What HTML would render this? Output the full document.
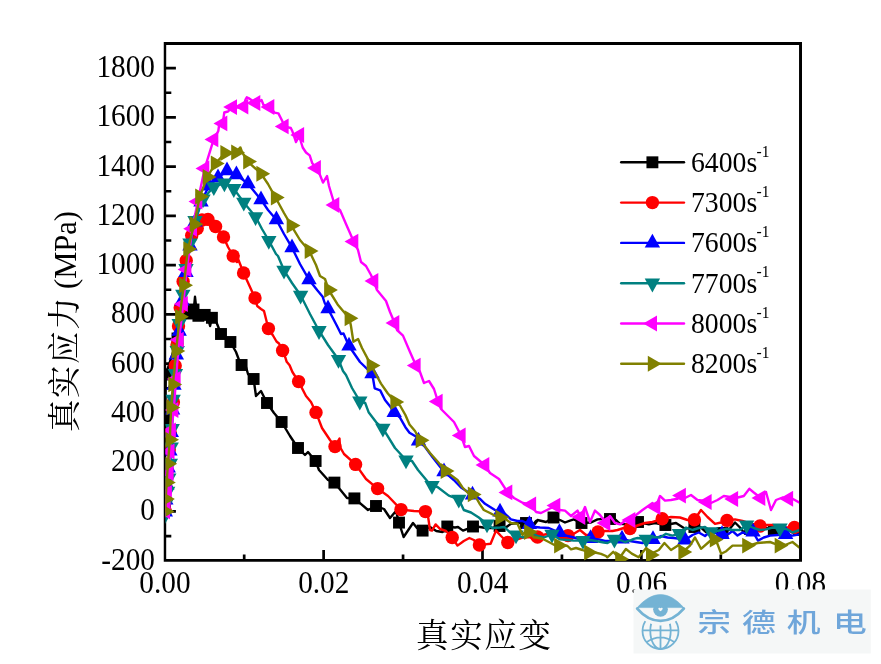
<!DOCTYPE html>
<html lang="zh"><head><meta charset="utf-8"><title>真实应力-真实应变</title>
<style>html,body{margin:0;padding:0;background:#fff}body{width:881px;height:664px;overflow:hidden;position:relative}</style>
</head><body>
<svg width="881" height="664" viewBox="0 0 881 664" style="position:absolute;left:0;top:0">
<defs><clipPath id="pc"><rect x="165.4" y="43" width="633.7" height="517.9"/></clipPath></defs>
<rect x="0" y="0" width="881" height="664" fill="#fff"/>
<path d="M163.75 41.9H802V561.8H163.75ZM166.2 44.9V558.95H799.05V44.9Z" fill="#000" fill-rule="evenodd"/>
<path d="M165.5 536.04H171.3 M165.5 511.41H175.9 M165.5 486.78H171.3 M165.5 462.15H175.9 M165.5 437.53H171.3 M165.5 412.9H175.9 M165.5 388.27H171.3 M165.5 363.64H175.9 M165.5 339.01H171.3 M165.5 314.39H175.9 M165.5 289.76H171.3 M165.5 265.13H175.9 M165.5 240.5H171.3 M165.5 215.87H175.9 M165.5 191.25H171.3 M165.5 166.62H175.9 M165.5 141.99H171.3 M165.5 117.36H175.9 M165.5 92.73H171.3 M165.5 68.11H175.9 M244.19 560.35v-5.8 M323.62 560.35v-10.4 M403.06 560.35v-5.8 M482.5 560.35v-10.4 M561.94 560.35v-5.8 M641.38 560.35v-10.4 M720.81 560.35v-5.8" stroke="#000" stroke-width="2.7" fill="none"/>
<g clip-path="url(#pc)">
<g fill="#000000" stroke="none">
<polyline points="165,505 165,465 165.3,419 165.8,374.5 177.5,338.5 182,322 188.7,313.5 193.5,309.5 194.2,305 195,296.8 196,306 198.4,315.8 201,317 204.7,314.9 208.3,319 210.1,326 211.9,317.8 216.5,322.5 218.6,327.7 221,334 226,338 230.4,342 236,352 239,360 241.6,365 246,367 248,374 253.6,379 256,396 261,391 267,403 274,413 281.6,422 290,436 298,448 305,455 308,452 315.6,461 319,470 328,480 334.4,482.6 347,498 354.4,498.4 368,510 376,506 384,509 390,518 396,511 399,522.6 403.6,537 413,523 417,528 422.6,530.6 430,527 436.3,531 442.5,532 447.3,526.5 455,527.5 458,527 463,530.6 467.5,528.8 473,526.5 480,527 486,528 492.5,528 499.6,526 505,528 511,523.8 517.5,523 526,523 533.8,523.8 536,521 537.5,520.6 535,523.8 537.5,520 546,522 553.5,517.5 560,520 565,522.5 570,520.6 573.8,519.4 581.5,523 591,522.5 597.5,519.4 605,518.8 610,519 616,520 620,523.8 626,524.4 635.6,522.5 638,522 648.8,524.4 655,523 665.4,525 676,523 685,528.8 694.4,527 701,527.5 706,532 715,530 722.5,533 728.8,530 735,522.5 740,527.5 743.8,532.5 750,529 760,530 766,528 773.8,530 780,532.5 787.5,530 799,530" fill="none" stroke="#000000" stroke-width="2.4" stroke-linejoin="round" stroke-linecap="round"/>
<rect x="159.05" y="499.05" width="11.9" height="11.9"/>
<rect x="159.05" y="459.05" width="11.9" height="11.9"/>
<rect x="159.35" y="413.05" width="11.9" height="11.9"/>
<rect x="159.85" y="368.55" width="11.9" height="11.9"/>
<rect x="171.55" y="332.55" width="11.9" height="11.9"/>
<rect x="182.75" y="307.55" width="11.9" height="11.9"/>
<rect x="187.55" y="303.55" width="11.9" height="11.9"/>
<rect x="192.45" y="309.85" width="11.9" height="11.9"/>
<rect x="198.75" y="308.95" width="11.9" height="11.9"/>
<rect x="205.95" y="311.85" width="11.9" height="11.9"/>
<rect x="215.05" y="328.05" width="11.9" height="11.9"/>
<rect x="224.45" y="336.05" width="11.9" height="11.9"/>
<rect x="235.65" y="359.05" width="11.9" height="11.9"/>
<rect x="247.65" y="373.05" width="11.9" height="11.9"/>
<rect x="261.05" y="397.05" width="11.9" height="11.9"/>
<rect x="275.65" y="416.05" width="11.9" height="11.9"/>
<rect x="292.05" y="442.05" width="11.9" height="11.9"/>
<rect x="309.65" y="455.05" width="11.9" height="11.9"/>
<rect x="328.45" y="476.65" width="11.9" height="11.9"/>
<rect x="348.45" y="492.45" width="11.9" height="11.9"/>
<rect x="370.05" y="500.05" width="11.9" height="11.9"/>
<rect x="393.05" y="516.65" width="11.9" height="11.9"/>
<rect x="416.65" y="524.65" width="11.9" height="11.9"/>
<rect x="441.35" y="520.55" width="11.9" height="11.9"/>
<rect x="467.05" y="520.55" width="11.9" height="11.9"/>
<rect x="493.65" y="520.05" width="11.9" height="11.9"/>
<rect x="520.05" y="517.05" width="11.9" height="11.9"/>
<rect x="547.55" y="511.55" width="11.9" height="11.9"/>
<rect x="575.55" y="517.05" width="11.9" height="11.9"/>
<rect x="604.05" y="513.05" width="11.9" height="11.9"/>
<rect x="632.05" y="516.05" width="11.9" height="11.9"/>
<rect x="659.45" y="519.05" width="11.9" height="11.9"/>
<rect x="688.45" y="521.05" width="11.9" height="11.9"/>
<rect x="716.55" y="527.05" width="11.9" height="11.9"/>
<rect x="744.05" y="523.05" width="11.9" height="11.9"/>
<rect x="767.85" y="524.05" width="11.9" height="11.9"/>
<rect x="793.05" y="524.05" width="11.9" height="11.9"/>
</g>
<g fill="#ff0000" stroke="none">
<polyline points="165.2,511 165.5,501 166.2,488 167.3,470 169.3,449.7 170.3,433 173.4,402 175.2,365.8 177,345 178.5,326 180.2,307.7 183.1,281.6 186.2,260.6 191.7,235.5 197.2,228.5 202,220 208,219.4 215.6,226.5 223.5,237 228,247 233.2,256 237,262 238.5,260 243.6,273 255,298 257.2,306 261,309 264,311 266.5,321 268.4,328.6 273,335.5 276.5,341.5 279,343.5 282.6,350.5 285.6,358.3 286.7,361.8 289.6,365.2 292.4,372 298.6,381.6 306,396 311,402 316,412.4 322,428 330,440 335,446.6 338,441 339.5,438.5 340,447 344,454 355.6,464.4 366,479 377.6,488.6 388,496 401,509.6 414,511 425.4,511.6 428,516 430,530 432,530.6 435.6,524.4 440,528.8 446,531 452.2,537.5 457.5,545.6 463.8,541 469.4,538 473.8,540 479.4,545 485,544.4 490.6,543.8 496,530.6 501,536 507.8,542.5 515,540 522.5,537.5 530,537 533.8,540.6 537.5,537 542.5,535 548.8,533.8 555,535 561,538 568,535.6 573.8,533.8 580,530 586,535 592.5,535 598,532 605,531 612.5,531 617.5,530 623.8,528 630,528.6 636,526 645,523 652.5,522 662.2,518.8 671,517 680,517.5 687.5,520 694.4,519.8 701,510 707.5,517 715,523.8 721,522.5 727,520.4 735,519.4 742.5,521 751,523.8 760,526 766,525 772.5,525 778.8,527 785,527.5 794.4,527.5 800,527.5" fill="none" stroke="#ff0000" stroke-width="2.4" stroke-linejoin="round" stroke-linecap="round"/>
<circle cx="165.2" cy="511" r="6.7"/>
<circle cx="165.5" cy="501" r="6.7"/>
<circle cx="166.2" cy="488" r="6.7"/>
<circle cx="167.3" cy="470" r="6.7"/>
<circle cx="169.3" cy="449.7" r="6.7"/>
<circle cx="170.3" cy="433" r="6.7"/>
<circle cx="173.4" cy="402" r="6.7"/>
<circle cx="175.2" cy="365.8" r="6.7"/>
<circle cx="177" cy="345" r="6.7"/>
<circle cx="178.5" cy="326" r="6.7"/>
<circle cx="180.2" cy="307.7" r="6.7"/>
<circle cx="183.1" cy="281.6" r="6.7"/>
<circle cx="186.2" cy="260.6" r="6.7"/>
<circle cx="191.7" cy="235.5" r="6.7"/>
<circle cx="197.2" cy="228.5" r="6.7"/>
<circle cx="202" cy="220" r="6.7"/>
<circle cx="208" cy="219.4" r="6.7"/>
<circle cx="215.6" cy="226.5" r="6.7"/>
<circle cx="223.5" cy="237" r="6.7"/>
<circle cx="233.2" cy="256" r="6.7"/>
<circle cx="243.6" cy="273" r="6.7"/>
<circle cx="255" cy="298" r="6.7"/>
<circle cx="268.4" cy="328.6" r="6.7"/>
<circle cx="282.6" cy="350.5" r="6.7"/>
<circle cx="298.6" cy="381.6" r="6.7"/>
<circle cx="316" cy="412.4" r="6.7"/>
<circle cx="335" cy="446.6" r="6.7"/>
<circle cx="355.6" cy="464.4" r="6.7"/>
<circle cx="377.6" cy="488.6" r="6.7"/>
<circle cx="401" cy="509.6" r="6.7"/>
<circle cx="425.4" cy="511.6" r="6.7"/>
<circle cx="452.2" cy="537.5" r="6.7"/>
<circle cx="479.4" cy="545" r="6.7"/>
<circle cx="507.8" cy="542.5" r="6.7"/>
<circle cx="537.5" cy="537" r="6.7"/>
<circle cx="568" cy="535.6" r="6.7"/>
<circle cx="598" cy="532" r="6.7"/>
<circle cx="630" cy="528.6" r="6.7"/>
<circle cx="662.2" cy="518.8" r="6.7"/>
<circle cx="694.4" cy="519.8" r="6.7"/>
<circle cx="727" cy="520.4" r="6.7"/>
<circle cx="760" cy="526" r="6.7"/>
<circle cx="794.4" cy="527.5" r="6.7"/>
</g>
<g fill="#0000ff" stroke="none">
<polyline points="165.3,512 165.8,500 166.8,485 168.2,468 169.9,451 171.3,432.5 172.6,409.9 174,385.2 176.3,354.9 179.2,331.1 182.1,300.8 186,272.5 190,246 195,222 201,202 209,186 218,177.7 227,170.7 236.4,174.7 248,183.7 261,199.7 268,210 276.4,219.7 284,234 292,247.7 300,264 309,279.7 317.5,290.5 322.7,296.8 324.7,303 328,308.7 337,326 341,334 343.5,333.5 349,346 360,362 372,373.7 373.3,380 374.7,388.4 380.2,390.4 385,400 390.4,406.8 394.2,412.4 400,417.7 405.4,427.2 409.5,432.7 416.3,436.8 418.5,441 424.5,446.3 432.6,457.2 444,471.7 453.8,480 461,487.5 472.5,495 480,498.8 485,503.8 495,510 500,511.9 505,513.8 511,519.4 517.5,521 522.5,521 529.4,524.4 535,527 540,527.5 548.8,528 559.4,532.5 567.5,536 573.8,537.5 580,539.4 590.6,538.5 598.8,539.4 605,541 611,541 622,539 630,541 636,542 642.5,543 653,539.4 661,536 667.5,537.5 673.8,538 680,538.8 685,540 692.5,535 698.8,532.5 705,536 711,531 717.5,533.8 722,534.5 728.8,533.8 732.5,531 737.5,535.6 742.5,532.5 747.5,533.8 753,532 758,540.6 763.8,537.5 770,535.6 777.5,535 785.6,534.5 792.5,535.6 800,534.4" fill="none" stroke="#0000ff" stroke-width="2.4" stroke-linejoin="round" stroke-linecap="round"/>
<polygon points="165.3,502.8 157.6,516.6 173,516.6"/>
<polygon points="165.8,490.8 158.1,504.6 173.5,504.6"/>
<polygon points="166.8,475.8 159.1,489.6 174.5,489.6"/>
<polygon points="168.2,458.8 160.5,472.6 175.9,472.6"/>
<polygon points="169.9,441.8 162.2,455.6 177.6,455.6"/>
<polygon points="171.3,423.3 163.6,437.1 179,437.1"/>
<polygon points="172.6,400.7 164.9,414.5 180.3,414.5"/>
<polygon points="174,376 166.3,389.8 181.7,389.8"/>
<polygon points="176.3,345.7 168.6,359.5 184,359.5"/>
<polygon points="179.2,321.9 171.5,335.7 186.9,335.7"/>
<polygon points="182.1,291.6 174.4,305.4 189.8,305.4"/>
<polygon points="186,263.3 178.3,277.1 193.7,277.1"/>
<polygon points="190,236.8 182.3,250.6 197.7,250.6"/>
<polygon points="195,212.8 187.3,226.6 202.7,226.6"/>
<polygon points="201,192.8 193.3,206.6 208.7,206.6"/>
<polygon points="209,176.8 201.3,190.6 216.7,190.6"/>
<polygon points="218,168.5 210.3,182.3 225.7,182.3"/>
<polygon points="227,161.5 219.3,175.3 234.7,175.3"/>
<polygon points="236.4,165.5 228.7,179.3 244.1,179.3"/>
<polygon points="248,174.5 240.3,188.3 255.7,188.3"/>
<polygon points="261,190.5 253.3,204.3 268.7,204.3"/>
<polygon points="276.4,210.5 268.7,224.3 284.1,224.3"/>
<polygon points="292,238.5 284.3,252.3 299.7,252.3"/>
<polygon points="309,270.5 301.3,284.3 316.7,284.3"/>
<polygon points="328,299.5 320.3,313.3 335.7,313.3"/>
<polygon points="349,336.8 341.3,350.6 356.7,350.6"/>
<polygon points="372,364.5 364.3,378.3 379.7,378.3"/>
<polygon points="394.2,403.2 386.5,417 401.9,417"/>
<polygon points="418.5,431.8 410.8,445.6 426.2,445.6"/>
<polygon points="444,462.5 436.3,476.3 451.7,476.3"/>
<polygon points="472.5,485.8 464.8,499.6 480.2,499.6"/>
<polygon points="500,502.7 492.3,516.5 507.7,516.5"/>
<polygon points="529.4,515.2 521.7,529 537.1,529"/>
<polygon points="559.4,523.3 551.7,537.1 567.1,537.1"/>
<polygon points="590.6,529.3 582.9,543.1 598.3,543.1"/>
<polygon points="622,529.8 614.3,543.6 629.7,543.6"/>
<polygon points="653,530.2 645.3,544 660.7,544"/>
<polygon points="685,530.8 677.3,544.6 692.7,544.6"/>
<polygon points="722,525.3 714.3,539.1 729.7,539.1"/>
<polygon points="753,522.8 745.3,536.6 760.7,536.6"/>
<polygon points="785.6,525.3 777.9,539.1 793.3,539.1"/>
</g>
<g fill="#008080" stroke="none">
<polyline points="165.2,514.5 165.8,504 167.6,491.3 168.8,478 170.3,463.4 171.2,447 172.2,428.6 173.1,399.3 175.4,373.6 177.2,350.7 179.2,323.6 182.8,294.3 186,268.7 190,243 195,220.6 203,199 213.8,186.8 224.4,183 233.8,188.7 243.8,202.4 255.6,216.8 262,229 268.8,240.5 276,254 278,256 284,270.3 292,283 300.6,295.3 310,314 319,330.7 328,345 338.5,359.5 343,371 346,375 352,388 359.8,401.2 365.2,403 368.6,412.2 376.8,423 382.9,428.4 395,448 406,460 412,461 418,470 428,482 432,485.5 437.5,487 448.8,495.6 458.8,499.3 463.8,510 471,512.5 478.8,517.5 487,524 492.5,528 500,527.5 504.4,527 510,532.5 516,535 522.5,537.5 530,535 534,534 537.5,536 543.8,537.5 552,534.3 560,539.4 567.5,540 573.8,540.6 583,540.5 590,540 596,541 603.8,542.5 607.5,543 614.4,539.3 620,540 625,542 630,540.6 633.8,538.8 637.5,538 646.2,539.3 652.5,537 660,537.5 666,533.8 672.5,535.6 679.4,533.7 686,527.5 692.5,530 698.8,528 705,527 711,531.8 717.5,531 726,528.8 732.5,530 740,530 746.6,525 753.8,528 760,530 766,529.4 772.5,527.5 780,528 787.5,529.4 792.5,532.5 800,530" fill="none" stroke="#008080" stroke-width="2.4" stroke-linejoin="round" stroke-linecap="round"/>
<polygon points="165.2,523.7 157.5,509.9 172.9,509.9"/>
<polygon points="165.8,513.2 158.1,499.4 173.5,499.4"/>
<polygon points="167.6,500.5 159.9,486.7 175.3,486.7"/>
<polygon points="168.8,487.2 161.1,473.4 176.5,473.4"/>
<polygon points="170.3,472.6 162.6,458.8 178,458.8"/>
<polygon points="171.2,456.2 163.5,442.4 178.9,442.4"/>
<polygon points="172.2,437.8 164.5,424 179.9,424"/>
<polygon points="173.1,408.5 165.4,394.7 180.8,394.7"/>
<polygon points="175.4,382.8 167.7,369 183.1,369"/>
<polygon points="177.2,359.9 169.5,346.1 184.9,346.1"/>
<polygon points="179.2,332.8 171.5,319 186.9,319"/>
<polygon points="182.8,303.5 175.1,289.7 190.5,289.7"/>
<polygon points="186,277.9 178.3,264.1 193.7,264.1"/>
<polygon points="190,252.2 182.3,238.4 197.7,238.4"/>
<polygon points="195,229.8 187.3,216 202.7,216"/>
<polygon points="203,208.2 195.3,194.4 210.7,194.4"/>
<polygon points="213.8,196 206.1,182.2 221.5,182.2"/>
<polygon points="224.4,192.2 216.7,178.4 232.1,178.4"/>
<polygon points="233.8,197.9 226.1,184.1 241.5,184.1"/>
<polygon points="243.8,211.6 236.1,197.8 251.5,197.8"/>
<polygon points="255.6,226 247.9,212.2 263.3,212.2"/>
<polygon points="268.8,249.7 261.1,235.9 276.5,235.9"/>
<polygon points="284,279.5 276.3,265.7 291.7,265.7"/>
<polygon points="300.6,304.5 292.9,290.7 308.3,290.7"/>
<polygon points="319,339.9 311.3,326.1 326.7,326.1"/>
<polygon points="338.5,368.7 330.8,354.9 346.2,354.9"/>
<polygon points="359.8,410.4 352.1,396.6 367.5,396.6"/>
<polygon points="382.9,437.6 375.2,423.8 390.6,423.8"/>
<polygon points="406,469.2 398.3,455.4 413.7,455.4"/>
<polygon points="432,494.7 424.3,480.9 439.7,480.9"/>
<polygon points="458.8,508.5 451.1,494.7 466.5,494.7"/>
<polygon points="487,533.2 479.3,519.4 494.7,519.4"/>
<polygon points="516,544.2 508.3,530.4 523.7,530.4"/>
<polygon points="552,543.5 544.3,529.7 559.7,529.7"/>
<polygon points="583,549.7 575.3,535.9 590.7,535.9"/>
<polygon points="614.4,548.5 606.7,534.7 622.1,534.7"/>
<polygon points="646.2,548.5 638.5,534.7 653.9,534.7"/>
<polygon points="679.4,542.9 671.7,529.1 687.1,529.1"/>
<polygon points="711,541 703.3,527.2 718.7,527.2"/>
<polygon points="746.6,534.2 738.9,520.4 754.3,520.4"/>
<polygon points="780,537.2 772.3,523.4 787.7,523.4"/>
</g>
<g fill="#ff00ff" stroke="none">
<polyline points="165.4,511.3 166,504.7 167.3,493 169,473 169.9,451.5 171.3,430.5 173.8,410 176,379 179.1,339.7 183.2,304 186.8,269.4 192.4,228.8 197.7,201.6 204.7,168.4 213.7,139.4 218.3,131 219,126 222.7,123.4 224.3,112.5 228,111.5 232.4,107.1 238,107.5 243.7,106.6 245.5,99.5 246.8,97.3 248.5,98 255.7,103 260,101 261.5,100 263.5,105 269.7,107 274.5,112.6 278.4,113.4 282.4,121.3 284,126.4 290.8,128 292.5,131.6 296,142 298,138 299.5,135 301,142 302.7,147.5 306,152.5 309.7,155.4 312.3,163.3 316.3,168 320,175 323,182.6 327,176 329,186 334.7,205 340,210 346,224 353.7,241.6 358,250 361,262 366,266 371,275 373.7,281 377,290 386,301 390,312 394.7,323 397,330 403,335.6 410,352 416,365.6 420,372 424,383 429,381 434,389 438,401.6 441,409 448,416 454,422 461,435.4 465,447 469,446 474,456 484.7,465 490,473 499,479 507.7,492.4 514,498 523,503 531.5,504.4 536,512 541,513 547,510 555.7,505.6 560,510 565,510.6 571,516 577.5,510.6 580.7,517 585,507 590,522 595,510.6 600,515 603.8,520 605.7,523 610,516 615,523 620,524.4 625,521 630.7,520 636,515 642.5,510 652.5,503 655.7,507 660,496 665,500.6 671,500 677.5,498.8 681.3,495.6 685,498 691,495 697.5,500 705,501 707,502 711,503 717.5,500 723.8,496 730,497 733.5,499 737.8,497.5 743.8,496 749.4,488.8 753.8,492.5 760.7,498 766,492 771,510 776,500 782.5,497.5 788.5,498.8 792.5,498.8 800,503" fill="none" stroke="#ff00ff" stroke-width="2.4" stroke-linejoin="round" stroke-linecap="round"/>
<polygon points="156.2,511.3 170,503.35 170,519.25"/>
<polygon points="156.8,504.7 170.6,496.75 170.6,512.65"/>
<polygon points="158.1,493 171.9,485.05 171.9,500.95"/>
<polygon points="159.8,473 173.6,465.05 173.6,480.95"/>
<polygon points="160.7,451.5 174.5,443.55 174.5,459.45"/>
<polygon points="162.1,430.5 175.9,422.55 175.9,438.45"/>
<polygon points="164.6,410 178.4,402.05 178.4,417.95"/>
<polygon points="166.8,379 180.6,371.05 180.6,386.95"/>
<polygon points="169.9,339.7 183.7,331.75 183.7,347.65"/>
<polygon points="174,304 187.8,296.05 187.8,311.95"/>
<polygon points="177.6,269.4 191.4,261.45 191.4,277.35"/>
<polygon points="183.2,228.8 197,220.85 197,236.75"/>
<polygon points="188.5,201.6 202.3,193.65 202.3,209.55"/>
<polygon points="195.5,168.4 209.3,160.45 209.3,176.35"/>
<polygon points="204.5,139.4 218.3,131.45 218.3,147.35"/>
<polygon points="213.5,123.4 227.3,115.45 227.3,131.35"/>
<polygon points="223.2,107.1 237,99.15 237,115.05"/>
<polygon points="234.5,106.6 248.3,98.65 248.3,114.55"/>
<polygon points="246.5,103 260.3,95.05 260.3,110.95"/>
<polygon points="260.5,107 274.3,99.05 274.3,114.95"/>
<polygon points="274.8,126.4 288.6,118.45 288.6,134.35"/>
<polygon points="290.3,135 304.1,127.05 304.1,142.95"/>
<polygon points="307.1,168 320.9,160.05 320.9,175.95"/>
<polygon points="325.5,205 339.3,197.05 339.3,212.95"/>
<polygon points="344.5,241.6 358.3,233.65 358.3,249.55"/>
<polygon points="364.5,281 378.3,273.05 378.3,288.95"/>
<polygon points="385.5,323 399.3,315.05 399.3,330.95"/>
<polygon points="406.8,365.6 420.6,357.65 420.6,373.55"/>
<polygon points="428.8,401.6 442.6,393.65 442.6,409.55"/>
<polygon points="451.8,435.4 465.6,427.45 465.6,443.35"/>
<polygon points="475.5,465 489.3,457.05 489.3,472.95"/>
<polygon points="498.5,492.4 512.3,484.45 512.3,500.35"/>
<polygon points="522.3,504.4 536.1,496.45 536.1,512.35"/>
<polygon points="546.5,505.6 560.3,497.65 560.3,513.55"/>
<polygon points="571.5,517 585.3,509.05 585.3,524.95"/>
<polygon points="596.5,523 610.3,515.05 610.3,530.95"/>
<polygon points="621.5,520 635.3,512.05 635.3,527.95"/>
<polygon points="646.5,507 660.3,499.05 660.3,514.95"/>
<polygon points="672.1,495.6 685.9,487.65 685.9,503.55"/>
<polygon points="697.8,502 711.6,494.05 711.6,509.95"/>
<polygon points="724.3,499 738.1,491.05 738.1,506.95"/>
<polygon points="751.5,498 765.3,490.05 765.3,505.95"/>
<polygon points="779.3,498.8 793.1,490.85 793.1,506.75"/>
</g>
<g fill="#808000" stroke="none">
<polyline points="165.3,511.5 165.7,498.9 166.6,482.6 168,463.7 169.8,439.8 171.1,407.4 172.9,384.4 176.1,351 179.7,316.7 183.8,285.2 187.9,249.1 194.2,224.3 199.8,196.5 207.3,177 215.4,163.5 225,153 235.8,152.5 240.4,147.4 242,152 247.8,161.5 261,173.7 268,184 275.5,197.5 284,213 291.3,225.6 300,240 309.3,251 316,265 320,276 325,279 328.7,290 337.6,304.4 349.2,318.2 350.8,325 353.4,341.8 358.1,339 362,348 371.3,365.6 376,374.5 381,383.6 387.7,393.2 395,402 400,405.5 405.4,415 409.5,424.5 415,431 420.3,440.3 430,453 438,462 445.3,471 457.5,480 462.5,487.5 468,493 472.4,494.4 476,497.5 480,504.4 483.8,510 490,513 495.6,516 500,517.5 505,518.8 511,523 517.5,523.8 522.5,535 524.4,532.5 528.7,532 534,537.5 536,537.5 542.5,538.8 548.8,542 554.4,545 558.7,545.6 561,544.4 567.5,546 571,549.4 576,548 582.5,550 588.7,552.5 595,552.5 601,553.8 606,556 607.3,557.3 613.2,551.8 619.8,559 622.3,554 625.9,549 631.8,553.6 638.6,557.3 646.2,548 650.6,555 652.5,553 658.8,550 664.4,543 671,550 678.8,545 683,552 685,550 690,545.6 695,537.5 701,548.8 710,541 714.4,539.5 717.5,544 721.2,553.8 726.2,551.2 732.5,545.6 742.5,545.6 746.8,545.6 751.2,545 757.5,543 763.8,542.5 770,542 775,543.8 779.3,545.6 785,545 792.5,542 800,548" fill="none" stroke="#808000" stroke-width="2.4" stroke-linejoin="round" stroke-linecap="round"/>
<polygon points="174.5,511.5 160.7,503.55 160.7,519.45"/>
<polygon points="174.9,498.9 161.1,490.95 161.1,506.85"/>
<polygon points="175.8,482.6 162,474.65 162,490.55"/>
<polygon points="177.2,463.7 163.4,455.75 163.4,471.65"/>
<polygon points="179,439.8 165.2,431.85 165.2,447.75"/>
<polygon points="180.3,407.4 166.5,399.45 166.5,415.35"/>
<polygon points="182.1,384.4 168.3,376.45 168.3,392.35"/>
<polygon points="185.3,351 171.5,343.05 171.5,358.95"/>
<polygon points="188.9,316.7 175.1,308.75 175.1,324.65"/>
<polygon points="193,285.2 179.2,277.25 179.2,293.15"/>
<polygon points="197.1,249.1 183.3,241.15 183.3,257.05"/>
<polygon points="203.4,224.3 189.6,216.35 189.6,232.25"/>
<polygon points="209,196.5 195.2,188.55 195.2,204.45"/>
<polygon points="216.5,177 202.7,169.05 202.7,184.95"/>
<polygon points="224.6,163.5 210.8,155.55 210.8,171.45"/>
<polygon points="234.2,153 220.4,145.05 220.4,160.95"/>
<polygon points="245,152.5 231.2,144.55 231.2,160.45"/>
<polygon points="257,161.5 243.2,153.55 243.2,169.45"/>
<polygon points="270.2,173.7 256.4,165.75 256.4,181.65"/>
<polygon points="284.7,197.5 270.9,189.55 270.9,205.45"/>
<polygon points="300.5,225.6 286.7,217.65 286.7,233.55"/>
<polygon points="318.5,251 304.7,243.05 304.7,258.95"/>
<polygon points="337.9,290 324.1,282.05 324.1,297.95"/>
<polygon points="358.4,318.2 344.6,310.25 344.6,326.15"/>
<polygon points="380.5,365.6 366.7,357.65 366.7,373.55"/>
<polygon points="404.2,402 390.4,394.05 390.4,409.95"/>
<polygon points="429.5,440.3 415.7,432.35 415.7,448.25"/>
<polygon points="454.5,471 440.7,463.05 440.7,478.95"/>
<polygon points="481.6,494.4 467.8,486.45 467.8,502.35"/>
<polygon points="509.2,517.5 495.4,509.55 495.4,525.45"/>
<polygon points="537.9,532 524.1,524.05 524.1,539.95"/>
<polygon points="567.9,545.6 554.1,537.65 554.1,553.55"/>
<polygon points="597.9,552.5 584.1,544.55 584.1,560.45"/>
<polygon points="629,559 615.2,551.05 615.2,566.95"/>
<polygon points="659.8,555 646,547.05 646,562.95"/>
<polygon points="692.2,552 678.4,544.05 678.4,559.95"/>
<polygon points="723.6,539.5 709.8,531.55 709.8,547.45"/>
<polygon points="756,545.6 742.2,537.65 742.2,553.55"/>
<polygon points="788.5,545.6 774.7,537.65 774.7,553.55"/>
</g>
</g>
<g font-family="'Liberation Serif', serif" font-size="29.3" fill="#000">
<text transform="translate(155,569.67) scale(1,1.06)" text-anchor="end">-200</text>
<text transform="translate(155,520.41) scale(1,1.06)" text-anchor="end">0</text>
<text transform="translate(155,471.15) scale(1,1.06)" text-anchor="end">200</text>
<text transform="translate(155,421.9) scale(1,1.06)" text-anchor="end">400</text>
<text transform="translate(155,372.64) scale(1,1.06)" text-anchor="end">600</text>
<text transform="translate(155,323.39) scale(1,1.06)" text-anchor="end">800</text>
<text transform="translate(155,274.13) scale(1,1.06)" text-anchor="end">1000</text>
<text transform="translate(155,224.87) scale(1,1.06)" text-anchor="end">1200</text>
<text transform="translate(155,175.62) scale(1,1.06)" text-anchor="end">1400</text>
<text transform="translate(155,126.36) scale(1,1.06)" text-anchor="end">1600</text>
<text transform="translate(155,77.11) scale(1,1.06)" text-anchor="end">1800</text>
<text transform="translate(164.9,593.3) scale(1,1.06)" text-anchor="middle">0.00</text>
<text transform="translate(323.77,593.3) scale(1,1.06)" text-anchor="middle">0.02</text>
<text transform="translate(482.65,593.3) scale(1,1.06)" text-anchor="middle">0.04</text>
<text transform="translate(641.52,593.3) scale(1,1.06)" text-anchor="middle">0.06</text>
<text transform="translate(800.4,593.3) scale(1,1.06)" text-anchor="middle">0.08</text>
</g>
<text x="484.3" y="646.8" text-anchor="middle" letter-spacing="1.7" font-family="'Liberation Serif', 'Noto Serif CJK SC', serif" font-size="32.4" fill="#000">真实应变</text>
<text transform="translate(76.2,432) rotate(-90)" font-family="'Liberation Serif', 'Noto Serif CJK SC', serif" font-size="32.4" fill="#000"><tspan letter-spacing="1.7">真实应力</tspan><tspan font-size="30.5" dx="-1"> (MPa)</tspan></text>
<g fill="#000000"><path d="M621.2 162.3H684" stroke="#000000" stroke-width="2.4" stroke-linecap="round" fill="none"/><rect x="646.45" y="156.35" width="11.9" height="11.9"/></g>
<text transform="translate(691,171.6) scale(1,1.06)" font-family="'Liberation Serif', serif" font-size="27.7" fill="#000">6400s<tspan font-size="15.5" dy="-14.2" dx="-0.6">-1</tspan></text>
<g fill="#ff0000"><path d="M621.2 202.6H684" stroke="#ff0000" stroke-width="2.4" stroke-linecap="round" fill="none"/><circle cx="652.4" cy="202.6" r="6.7"/></g>
<text transform="translate(691,211.9) scale(1,1.06)" font-family="'Liberation Serif', serif" font-size="27.7" fill="#000">7300s<tspan font-size="15.5" dy="-14.2" dx="-0.6">-1</tspan></text>
<g fill="#0000ff"><path d="M621.2 242.9H684" stroke="#0000ff" stroke-width="2.4" stroke-linecap="round" fill="none"/><polygon points="652.4,233.7 644.7,247.5 660.1,247.5"/></g>
<text transform="translate(691,252.2) scale(1,1.06)" font-family="'Liberation Serif', serif" font-size="27.7" fill="#000">7600s<tspan font-size="15.5" dy="-14.2" dx="-0.6">-1</tspan></text>
<g fill="#008080"><path d="M621.2 283.2H684" stroke="#008080" stroke-width="2.4" stroke-linecap="round" fill="none"/><polygon points="652.4,292.4 644.7,278.6 660.1,278.6"/></g>
<text transform="translate(691,292.5) scale(1,1.06)" font-family="'Liberation Serif', serif" font-size="27.7" fill="#000">7700s<tspan font-size="15.5" dy="-14.2" dx="-0.6">-1</tspan></text>
<g fill="#ff00ff"><path d="M621.2 323.5H684" stroke="#ff00ff" stroke-width="2.4" stroke-linecap="round" fill="none"/><polygon points="643.2,323.5 657,315.55 657,331.45"/></g>
<text transform="translate(691,332.8) scale(1,1.06)" font-family="'Liberation Serif', serif" font-size="27.7" fill="#000">8000s<tspan font-size="15.5" dy="-14.2" dx="-0.6">-1</tspan></text>
<g fill="#808000"><path d="M621.2 363.8H684" stroke="#808000" stroke-width="2.4" stroke-linecap="round" fill="none"/><polygon points="661.6,363.8 647.8,355.85 647.8,371.75"/></g>
<text transform="translate(691,373.1) scale(1,1.06)" font-family="'Liberation Serif', serif" font-size="27.7" fill="#000">8200s<tspan font-size="15.5" dy="-14.2" dx="-0.6">-1</tspan></text>
<g clip-path="url(#wc)">
<clipPath id="wc"><rect x="633.3" y="589.3" width="237.6" height="64.4"/></clipPath>
<rect x="633.3" y="589.3" width="237.6" height="64.4" fill="#f5f7f7"/>
<clipPath id="gc"><rect x="636" y="611" width="50" height="42"/></clipPath>
<g fill="none" stroke="#74b3d4" stroke-width="1.8" clip-path="url(#gc)">
<circle cx="660.5" cy="631" r="18"/>
<ellipse cx="660.5" cy="631" rx="10.2" ry="18"/>
<path d="M660.5 613V649M642.5 630.3H678.5M646.8 642Q660.5 632.6 674.2 642"/>
</g>
<path d="M636.6 608.4C645 618 653 621.2 660.5 621.2C668 621.2 676 618 684.4 608.4Z" fill="#f5f7f7" stroke="#f5f7f7" stroke-width="8.4"/>
<path d="M636.4 608.6C645 598.5 653 594.6 660.5 594.6C668 594.6 676 598.5 684.6 608.6L681 607.6H640Z" fill="#74b3d4" stroke="#74b3d4" stroke-width="0.6" stroke-linejoin="round"/>
<path d="M637.2 608.6C645 617.6 653 620.9 660.5 620.9C668 620.9 676 617.6 683.8 608.6" fill="none" stroke="#74b3d4" stroke-width="2.8" stroke-linecap="round"/>
<circle cx="660.5" cy="609.3" r="7.4" fill="#74b3d4"/>
<path d="M658.3 608.6Q658.3 607.5 659.4 607.7Q660.5 608 660.5 608.4Q660.5 608 661.6 607.7Q662.7 607.5 662.7 608.6Q662.7 610.4 660.5 611.3Q658.3 610.4 658.3 608.6Z" fill="#f5f7f7"/>
<text transform="translate(0,632.2) scale(1.3,1)" x="536.4 570.8 605.2 640.8" y="0" font-family="'Liberation Sans', 'Noto Sans CJK SC', sans-serif" font-weight="500" font-size="26" fill="#6fa6da">宗德机电</text>
</g>

</svg>
</body></html>
